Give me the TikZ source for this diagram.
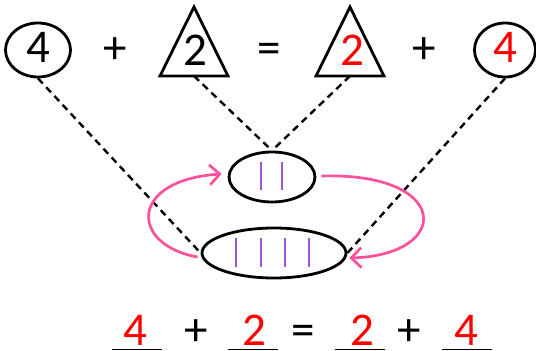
\documentclass[tikz,border=0pt]{standalone}
\usepackage{fontspec}
\setmainfont{Carlito}
\usetikzlibrary{shapes.geometric,arrows.meta}
\definecolor{pinkc}{RGB}{255,80,155}
\definecolor{purp}{RGB}{160,85,210}
\definecolor{redc}{RGB}{255,0,0}
\begin{document}
\begin{tikzpicture}[x=1pt,y=-1pt,
  num/.style={font=\fontsize{47}{47}\selectfont, anchor=base, inner sep=0pt},
  oval/.style={draw, ellipse, line width=2.8pt, inner sep=0pt},
  shp/.style={draw, line width=2.8pt, line join=miter},
  dline/.style={draw, line width=2.4pt, dash pattern=on 7pt off 5pt},
  bar/.style={draw=purp, line width=2.6pt},
  loop/.style={draw=pinkc, line width=2.7pt, -{Straight Barb[length=10pt,width=20pt,line width=2.7pt]}},
  uline/.style={draw, line width=1.5pt}]
\useasboundingbox (0,0) rectangle (536,351);
% top row shapes
\node[oval, minimum width=65pt, minimum height=54pt] (c1) at (38,50) {};
\node[oval, minimum width=61pt, minimum height=54pt] (c2) at (505,50) {};
\draw[shp] (194,7) -- (228,76) -- (160,76) -- cycle;
\draw[shp] (350,7) -- (384,76) -- (316,76) -- cycle;
\coordinate (t1b) at (194,76);
\coordinate (t2b) at (350,76);
% top row text
\node[num] (d1) at (38,62) {4};
\node[num] (p1) at (115,63) {+};
\node[num] (d2) at (195,65) {2};
\node[num] (eq1) at (269,63) {=};
\node[num, text=redc] (d3) at (352,65) {2};
\node[num] (p2) at (424,63) {+};
\node[num, text=redc] (d4) at (505,62) {4};
% ovals
\node[oval, minimum width=86pt, minimum height=50pt] (up) at (272,177) {};
\node[oval, minimum width=144pt, minimum height=50pt] (low) at (274,253) {};
\draw[bar] (261,162) -- (261,190);
\draw[bar] (282,162) -- (282,190);
\draw[bar] (236,238) -- (236,267);
\draw[bar] (261,238) -- (261,267);
\draw[bar] (285,238) -- (285,267);
\draw[bar] (309,238) -- (309,267);
% dashed lines
\draw[dline] (c1.south) -- (low.west);
\draw[dline] (t1b) -- (up.north);
\draw[dline] (t2b) -- (up.north);
\draw[dline] (c2.south) -- (low.east);
% pink loops
\draw[loop] ([xshift=-3pt,yshift=-4pt]low.west) .. controls +(-68,-12) and +(-93,6) .. ([xshift=-6pt,yshift=3pt]up.west);
\draw[loop] ([xshift=5pt,yshift=1pt]up.east) .. controls +(130,-4) and +(103,-3) .. ([xshift=2pt,yshift=-5pt]low.east);
% bottom row
\node[num, text=redc] (b1) at (135,345) {4};
\node[num] (bp1) at (196,345) {+};
\node[num, text=redc] (b2) at (254,345) {2};
\node[num] (beq) at (303,345) {=};
\node[num, text=redc] (b3) at (362,345) {2};
\node[num] (bp2) at (409,345) {+};
\node[num, text=redc] (b4) at (466,345) {4};
\draw[uline] (112,349.5) -- (162,349.5);
\draw[uline] (228,349.5) -- (278,349.5);
\draw[uline] (335,349.5) -- (385,349.5);
\draw[uline] (442,349.5) -- (492,349.5);
\end{tikzpicture}
\end{document}
